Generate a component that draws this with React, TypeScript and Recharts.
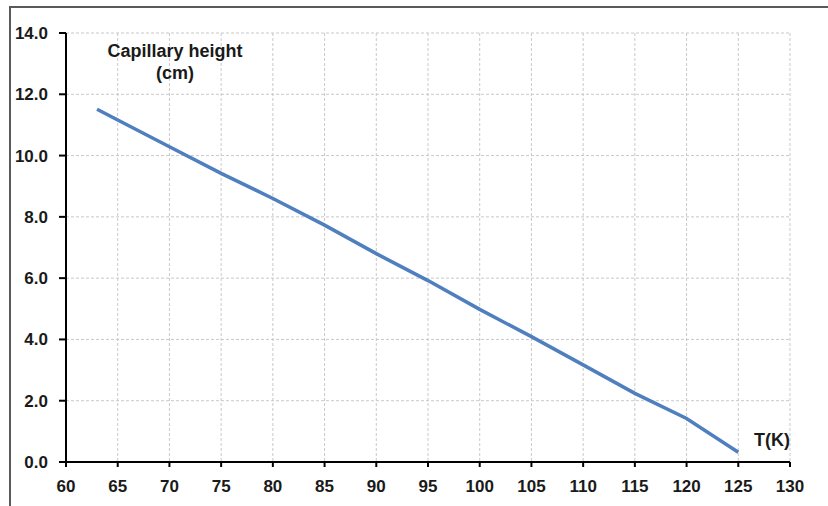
import { CartesianGrid, Line, LineChart, XAxis, YAxis } from "recharts";

const temperatures = [63, 65, 70, 75, 80, 85, 90, 95, 100, 105, 110, 115, 120, 125];
const heights = [11.51, 11.16, 10.29, 9.42, 8.6, 7.73, 6.8, 5.92, 4.98, 4.09, 3.17, 2.24, 1.42, 0.32];
const xTicks = [60, 65, 70, 75, 80, 85, 90, 95, 100, 105, 110, 115, 120, 125, 130];
const yTicks = [0, 2, 4, 6, 8, 10, 12, 14];

const data = temperatures.map((t, i) => ({ t, h: heights[i] }));

const FONT = '"Liberation Sans", Arial, sans-serif';
const TICK = { fontSize: 17, fontWeight: 700, fill: "#1a1a1a", fontFamily: FONT };
const AXIS = { stroke: "#000", strokeWidth: 2 };

export default function App() {
  return (
    <div
      style={{
        position: "absolute",
        left: 0,
        top: 0,
        width: 828,
        height: 506,
        background: "#fff",
        overflow: "hidden",
      }}
    >
      {/* frame of the original screenshot, only top and left edges visible */}
      <div
        style={{
          position: "absolute",
          left: 9,
          top: 6,
          width: 830,
          height: 520,
          borderLeft: "2px solid #5a5a5a",
          borderTop: "2px solid #5a5a5a",
        }}
      />
      <LineChart
        width={828}
        height={506}
        data={data}
        margin={{ top: 33, right: 38, bottom: 10, left: 10 }}
        style={{ position: "absolute", left: 0, top: 0 }}
      >
        <CartesianGrid stroke="#c9c9c9" strokeDasharray="3 2" />
        <XAxis
          type="number"
          dataKey="t"
          domain={[60, 130]}
          ticks={xTicks}
          interval={0}
          height={34}
          tick={TICK}
          tickSize={5}
          tickMargin={13}
          axisLine={AXIS}
          tickLine={AXIS}
        />
        <YAxis
          type="number"
          domain={[0, 14]}
          ticks={yTicks}
          interval={0}
          width={56}
          tick={TICK}
          tickSize={7}
          tickMargin={11}
          axisLine={AXIS}
          tickLine={AXIS}
          tickFormatter={(v) => Number(v).toFixed(1)}
        />
        <Line
          type="linear"
          dataKey="h"
          stroke="#4f7fbf"
          strokeWidth={3.5}
          dot={false}
          isAnimationActive={false}
        />
      </LineChart>
      <div
        style={{
          position: "absolute",
          left: 75,
          top: 40,
          width: 200,
          textAlign: "center",
          font: `700 18px ${FONT}`,
          lineHeight: "22px",
          color: "#1a1a1a",
        }}
      >
        Capillary height
        <br />
        (cm)
      </div>
      <div
        style={{
          position: "absolute",
          left: 720,
          top: 430,
          width: 70,
          textAlign: "right",
          font: `700 18px ${FONT}`,
          color: "#1a1a1a",
        }}
      >
        T(K)
      </div>
    </div>
  );
}
